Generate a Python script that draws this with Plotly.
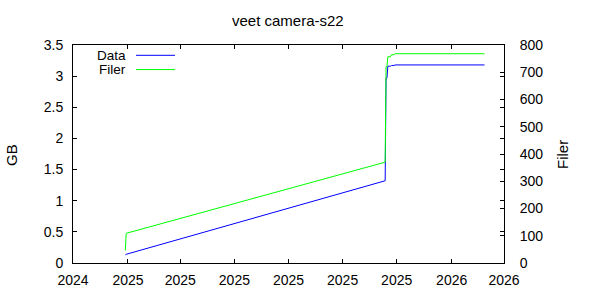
import plotly.graph_objects as go

# ---- data ----
dates = ["2025-01-29", "2025-01-30", "2025-11-18", "2025-11-19", "2025-11-20",
         "2025-11-21", "2025-11-24", "2025-11-25", "2025-11-28", "2025-11-29",
         "2026-03-10"]
data_gb = [0.13, 0.14, 1.32, 2.97, 2.97, 3.16, 3.16, 3.17, 3.17, 3.18, 3.18]
filer = [46, 109, 370, 720, 720, 757, 757, 764, 764, 768, 768]

x_range = ["2024-12-01", "2026-04-01"]
x_tick0 = "2024-12-01"
title = "veet camera-s22"
y1_title = "GB"
y2_title = "Filer"
legend_names = ["Data", "Filer"]
colors = ["#0000ff", "#00ff00"]

FONT = "Liberation Sans, Arial, sans-serif"

# plot area in pixels
L, R, T, B = 73, 504, 45, 267
W, H = 600, 300
pw, ph = R - L, B - T


def px(x):
    return (x - L) / pw


def py(y):
    return (B - y) / ph


fig = go.Figure()
fig.add_trace(go.Scatter(x=dates, y=data_gb, mode="lines", name=legend_names[0],
                         line=dict(color=colors[0], width=1), yaxis="y"))
fig.add_trace(go.Scatter(x=dates, y=filer, mode="lines", name=legend_names[1],
                         line=dict(color=colors[1], width=1), yaxis="y2"))

axis_common = dict(showgrid=False, zeroline=False, showline=True, linecolor="black",
                   linewidth=1, ticks="inside", ticklen=4, tickcolor="black",
                   tickfont=dict(family=FONT, size=14, color="black"))

fig.update_layout(
    width=W, height=H,
    margin=dict(l=L, r=W - R, t=T, b=H - B, pad=0),
    plot_bgcolor="white", paper_bgcolor="white",
    showlegend=False,
    font=dict(family=FONT, size=14, color="black"),
    xaxis=dict(type="date", range=x_range, tick0=x_tick0, dtick="M2",
               tickformat="%Y", mirror="ticks", ticklabelstandoff=4, **axis_common),
    yaxis=dict(range=[0, 3.5], dtick=0.5, mirror="ticks", ticklabelstandoff=6,
               **axis_common),
    yaxis2=dict(range=[0, 800], dtick=100, overlaying="y", side="right",
                ticklabelstandoff=12, **axis_common),
)

annotations = [
    dict(text=title, x=px(288), y=py(20), xref="paper", yref="paper",
         xanchor="center", yanchor="middle", showarrow=False,
         font=dict(family=FONT, size=15)),
    dict(text=y1_title, x=px(12), y=py(157), xref="paper", yref="paper",
         xanchor="center", yanchor="middle", showarrow=False, textangle=-90,
         font=dict(family=FONT, size=15)),
    dict(text=y2_title, x=px(563), y=py(157), xref="paper", yref="paper",
         xanchor="center", yanchor="middle", showarrow=False, textangle=-90,
         font=dict(family=FONT, size=15)),
]
shapes = []
leg_y = [55.5, 70.0]
for name, c, yy in zip(legend_names, colors, leg_y):
    annotations.append(dict(text=name, x=px(127), y=py(yy), xref="paper", yref="paper",
                            xanchor="right", yanchor="middle", showarrow=False,
                            borderpad=0, font=dict(family=FONT, size=13.5)))
    shapes.append(dict(type="line", xref="paper", yref="paper", x0=px(136), x1=px(175),
                       y0=py(yy), y1=py(yy), line=dict(color=c, width=1)))

fig.update_layout(annotations=annotations, shapes=shapes)
fig.write_html("out.html")
